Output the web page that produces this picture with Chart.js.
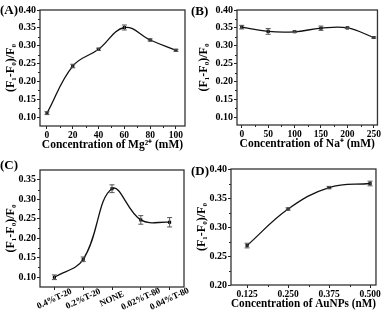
<!DOCTYPE html>
<html>
<head>
<meta charset="utf-8">
<script src="https://cdn.jsdelivr.net/npm/chart.js@4/dist/chart.umd.min.js"></script>
<style>
html,body{margin:0;padding:0;background:#fff;}
#wrap{position:relative;width:382px;height:312px;background:#fff;overflow:hidden;}
.panel{position:absolute;width:191px;height:156px;}
.lbl{position:absolute;font-family:"Liberation Serif",serif;font-weight:bold;font-size:13px;color:#000;line-height:13px;}
</style>
</head>
<body>
<div id="wrap">
  <div class="panel" style="left:0;top:0"><canvas id="cA" width="191" height="156"></canvas></div>
  <div class="panel" style="left:191px;top:0"><canvas id="cB" width="191" height="156"></canvas></div>
  <div class="panel" style="left:0;top:156px"><canvas id="cC" width="191" height="156"></canvas></div>
  <div class="panel" style="left:191px;top:156px"><canvas id="cD" width="191" height="156"></canvas></div>
  <div class="lbl" style="left:0px;top:3px">(A)</div>
  <div class="lbl" style="left:191px;top:4px">(B)</div>
  <div class="lbl" style="left:0px;top:158px">(C)</div>
  <div class="lbl" style="left:191px;top:164px">(D)</div>
</div>
<script>
// ---- Data ----
const mgConc = [0, 20, 40, 60, 80, 100];
const mgVals = [0.111, 0.243, 0.290, 0.351, 0.316, 0.287];
const mgErr  = [0.004, 0.005, 0.003, 0.007, 0.003, 0.003];
const mgXTicks = [0, 20, 40, 60, 80, 100];
const mgYTicks = [0.10, 0.15, 0.20, 0.25, 0.30, 0.35, 0.40];

const naConc = [0, 50, 100, 150, 200, 250];
const naVals = [0.352, 0.340, 0.339, 0.349, 0.350, 0.323];
const naErr  = [0.005, 0.008, 0.002, 0.006, 0.002, 0.002];
const naXTicks = [0, 50, 100, 150, 200, 250];
const naYTicks = [0.10, 0.15, 0.20, 0.25, 0.30, 0.35, 0.40];

const surfCats = ["0.4%T-20", "0.2%T-20", "NONE", "0.02%T-80", "0.04%T-80"];
const surfVals = [0.100, 0.146, 0.327, 0.247, 0.241];
const surfErr  = [0.006, 0.006, 0.010, 0.011, 0.012];
const surfYTicks = [0.10, 0.15, 0.20, 0.25, 0.30, 0.35];

const auConc = [0.125, 0.250, 0.375, 0.500];
const auVals = [0.268, 0.331, 0.368, 0.375];
const auErr  = [0.004, 0.002, 0.002, 0.004];
const auXTicks = [0.125, 0.250, 0.375, 0.500];
const auYTicks = [0.20, 0.25, 0.30, 0.35, 0.40];

// ---- Helpers ----
const FONT = "'Liberation Serif', 'Times New Roman', serif";
const INK = '#222';

const framePlugin = {
  id: 'frame',
  afterDraw(chart) {
    const {ctx, chartArea: a} = chart;
    ctx.save();
    ctx.strokeStyle = INK; ctx.lineWidth = 1;
    const ys = chart.scales.y, xs = chart.scales.x;
    const yt = ys.ticks.map(t => t.value);
    ctx.beginPath();
    for (let i = 0; i < yt.length - 1; i++) {
      const p = Math.round(ys.getPixelForValue((yt[i] + yt[i+1]) / 2)) + 0.5;
      ctx.moveTo(a.left, p); ctx.lineTo(a.left - 2, p);
    }
    if (xs.type !== 'category') {
      const xt = xs.ticks.map(t => t.value);
      for (let i = 0; i < xt.length - 1; i++) {
        const p = Math.round(xs.getPixelForValue((xt[i] + xt[i+1]) / 2)) + 0.5;
        ctx.moveTo(p, a.bottom); ctx.lineTo(p, a.bottom + 2);
      }
    }
    ctx.stroke();
    ctx.strokeStyle = '#333'; ctx.lineWidth = 1.3;
    ctx.strokeRect(a.left, a.top, a.right - a.left, a.bottom - a.top);
    // rotated, centred category labels
    if (xs.type === 'category') {
      ctx.fillStyle = '#000';
      ctx.font = "bold 9px " + FONT;
      ctx.textAlign = 'center'; ctx.textBaseline = 'middle';
      xs.getLabels().forEach((lab, i) => {
        const x = xs.getPixelForValue(i);
        ctx.save();
        ctx.translate(x, a.bottom + 12);
        ctx.rotate(-25 * Math.PI / 180);
        ctx.fillText(lab, 0, 0);
        ctx.restore();
      });
    }
    ctx.restore();
  }
};

const errPlugin = {
  id: 'errbars',
  afterDatasetsDraw(chart) {
    const {ctx} = chart;
    const ys = chart.scales.y;
    chart.data.datasets.forEach((ds, di) => {
      const meta = chart.getDatasetMeta(di);
      const errs = ds.errors || [];
      ctx.save();
      ctx.strokeStyle = '#555'; ctx.lineWidth = 1;
      meta.data.forEach((pt, i) => {
        const v = ds.data[i];
        const val = typeof v === 'object' ? v.y : v;
        const e = errs[i] || 0;
        const y1 = ys.getPixelForValue(val - e), y2 = ys.getPixelForValue(val + e);
        const x = pt.x;
        ctx.beginPath();
        ctx.moveTo(x, y1); ctx.lineTo(x, y2);
        ctx.moveTo(x - 2.5, y1); ctx.lineTo(x + 2.5, y1);
        ctx.moveTo(x - 2.5, y2); ctx.lineTo(x + 2.5, y2);
        ctx.stroke();
      });
      ctx.restore();
    });
  }
};

function makeChart(id, cfg) {
  const isCat = !!cfg.labels;
  const data = isCat ? cfg.vals : cfg.xs.map((x, i) => ({x, y: cfg.vals[i]}));
  const xScale = isCat ? {
    type: 'category', labels: cfg.labels, offset: true,
    grid: {display: true, drawOnChartArea: false, drawTicks: true, tickLength: 3, color: INK, offset: false},
    border: {display: false},
    ticks: {display: false},
    afterFit(s) { s.height = cfg.xH; }
  } : {
    type: 'linear', min: cfg.xmin, max: cfg.xmax,
    afterBuildTicks(s) { s.ticks = cfg.xTicks.map(v => ({value: v})); },
    grid: {display: true, drawOnChartArea: false, drawTicks: true, tickLength: 3, color: INK},
    border: {display: false},
    ticks: {color: '#000', font: {family: FONT, weight: 'bold', size: 9.5, lineHeight: 1.1}, padding: 1, maxRotation: 0,
      callback: v => v.toFixed(cfg.xDec)},
    title: {display: true, text: cfg.xTitle, color: '#000', font: {family: FONT, weight: 'bold', size: 11.5, lineHeight: 1.2}, padding: {top: 0, bottom: 0}},
    afterFit(s) { s.height = cfg.xH; }
  };
  return new Chart(document.getElementById(id), {
    type: 'line',
    data: {
      datasets: [{
        data, errors: cfg.errs,
        borderColor: '#111', borderWidth: 1.3, tension: 0.4,
        pointStyle: 'rect', pointRadius: 2.2, pointBackgroundColor: '#000', pointBorderColor: '#000', pointBorderWidth: 0,
        fill: false
      }]
    },
    options: {
      responsive: false, animation: false, devicePixelRatio: 1,
      layout: {padding: cfg.pad},
      plugins: {legend: {display: false}, tooltip: {enabled: false}},
      scales: {
        x: xScale,
        y: {
          type: 'linear', min: cfg.ymin, max: cfg.ymax,
          afterBuildTicks(s) { s.ticks = cfg.yTicks.map(v => ({value: v})); },
          grid: {display: true, drawOnChartArea: false, drawTicks: true, tickLength: 3, color: INK},
          border: {display: false},
          ticks: {color: '#000', font: {family: FONT, weight: 'bold', size: 10}, padding: 1, callback: v => v.toFixed(2)},
          title: {display: true, text: '(F\u2081-F\u2080)/F\u2080', color: '#000', font: {family: FONT, weight: 'bold', size: 12}, padding: {top: 0, bottom: 0}},
          afterFit(s) { s.width = cfg.yW; }
        }
      }
    },
    plugins: [framePlugin, errPlugin]
  });
}

makeChart('cA', {xs: mgConc, vals: mgVals, errs: mgErr, xTicks: mgXTicks, yTicks: mgYTicks,
  xmin: -5.4, xmax: 107, ymin: 0.075, ymax: 0.40, xDec: 0,
  xTitle: 'Concentration of Mg\u00B2\u207A (mM)', pad: {left: 4, right: 6, top: 10, bottom: 4}, yW: 36, xH: 26});

makeChart('cB', {xs: naConc, vals: naVals, errs: naErr, xTicks: naXTicks, yTicks: naYTicks,
  xmin: -9, xmax: 257, ymin: 0.078, ymax: 0.40, xDec: 0,
  xTitle: 'Concentration of Na\u207A (mM)', pad: {left: 6, right: 1, top: 10, bottom: 5}, yW: 40, xH: 26});

makeChart('cC', {labels: surfCats, vals: surfVals, errs: surfErr, yTicks: surfYTicks,
  ymin: 0.075, ymax: 0.375, pad: {left: 4, right: 7, top: 14, bottom: 0}, yW: 36, xH: 25});

makeChart('cD', {xs: auConc, vals: auVals, errs: auErr, xTicks: auXTicks, yTicks: auYTicks,
  xmin: 0.076, xmax: 0.518, ymin: 0.20, ymax: 0.40, xDec: 3,
  xTitle: 'Concentration of AuNPs (nM)', pad: {left: 4, right: 6, top: 13, bottom: 1}, yW: 36, xH: 26});
</script>
</body>
</html>
